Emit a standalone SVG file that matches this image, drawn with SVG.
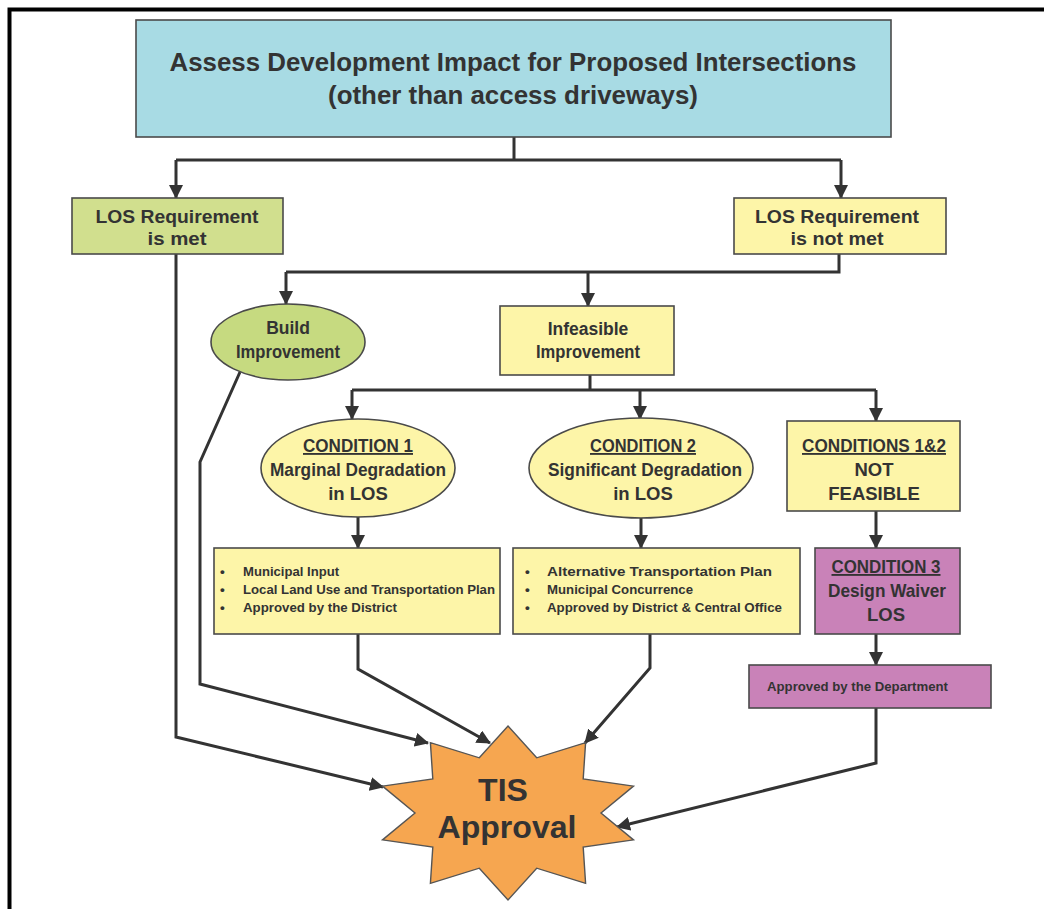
<svg xmlns="http://www.w3.org/2000/svg" width="1044" height="909" viewBox="0 0 1044 909">
<defs>
<marker id="ah" markerWidth="14" markerHeight="14" refX="13" refY="7" orient="auto" markerUnits="userSpaceOnUse"><path d="M0,0 L14,7 L0,14 z" fill="#333"/></marker>
<style>
.box{stroke:#4a4a4a;stroke-width:1.6}
.blue{fill:#a8dbe4}
.green{fill:#d1df8e}
.green2{fill:#c6da80}
.yellow{fill:#fdf5a8}
.purple{fill:#c982b8}
.orange{fill:#f6a650;stroke:#555;stroke-width:1.4}
text{font-family:"Liberation Sans",Arial,sans-serif;font-weight:bold;fill:#333}
.c{text-anchor:middle}
.t1{font-size:25px}
.t2{font-size:17.5px}
.t3{font-size:18.5px}
.t4{font-size:13.5px}
.t5{font-size:32px}
.u{text-decoration:underline}
.conn path{fill:none;stroke:#333;stroke-width:3}
.conn path.a{marker-end:url(#ah)}
</style>
</defs>
<rect width="1044" height="909" fill="#fff"/>
<path d="M9.5,909 V9.5 H1044" fill="none" stroke="#000" stroke-width="4"/>

<g class="conn" id="connectors">
<path d="M514,137 V160"/>
<path d="M176,160 H841"/>
<path class="a" d="M176,160 V198"/>
<path class="a" d="M841,160 V198"/>
<path d="M839,254 V272 H286"/>
<path class="a" d="M286,272 V304"/>
<path class="a" d="M588,272 V306"/>
<path d="M590,375 V390"/>
<path d="M352,390 H876"/>
<path class="a" d="M352,390 V419"/>
<path class="a" d="M640,390 V419"/>
<path class="a" d="M876,390 V421"/>
<path class="a" d="M358,517 V548"/>
<path class="a" d="M641,517 V548"/>
<path class="a" d="M876,511 V548"/>
<path class="a" d="M876,634 V665"/>
<path class="a" d="M176,254 V737 L383,787"/>
<path class="a" d="M240,372 L200,462 V684 L428,743"/>
<path class="a" d="M358,634 V669 L490,743"/>
<path class="a" d="M650,634 V668 L585,743"/>
<path class="a" d="M876,708 V763 L617,827"/>
</g>

<g id="n-assess">
<rect class="box blue" x="136" y="20" width="755" height="117"/>
<text class="t1 c" x="513" y="71" textLength="687" lengthAdjust="spacingAndGlyphs">Assess Development Impact for Proposed Intersections</text>
<text class="t1 c" x="513" y="104" textLength="370" lengthAdjust="spacingAndGlyphs">(other than access driveways)</text>
</g>

<g id="n-met">
<rect class="box green" x="72" y="198" width="211" height="56"/>
<text class="t2 c" x="177" y="223" textLength="163" lengthAdjust="spacingAndGlyphs">LOS Requirement</text>
<text class="t2 c" x="177" y="245" textLength="59" lengthAdjust="spacingAndGlyphs">is met</text>
</g>

<g id="n-notmet">
<rect class="box yellow" x="734" y="198" width="212" height="56"/>
<text class="t2 c" x="837" y="223" textLength="164" lengthAdjust="spacingAndGlyphs">LOS Requirement</text>
<text class="t2 c" x="837" y="245" textLength="93" lengthAdjust="spacingAndGlyphs">is not met</text>
</g>

<g id="n-build">
<ellipse class="box green2" cx="288" cy="342" rx="77" ry="38"/>
<text class="t2 c" x="288" y="334">Build</text>
<text class="t2 c" x="288" y="358" textLength="104" lengthAdjust="spacingAndGlyphs">Improvement</text>
</g>

<g id="n-infeasible">
<rect class="box yellow" x="500" y="306" width="174" height="69"/>
<text class="t2 c" x="588" y="335">Infeasible</text>
<text class="t2 c" x="588" y="358" textLength="104" lengthAdjust="spacingAndGlyphs">Improvement</text>
</g>

<g id="n-cond1">
<ellipse class="box yellow" cx="358" cy="468" rx="97" ry="49"/>
<text class="t3 c u" x="358" y="452" textLength="110" lengthAdjust="spacingAndGlyphs">CONDITION 1</text>
<text class="t3 c" x="358" y="476" textLength="176" lengthAdjust="spacingAndGlyphs">Marginal Degradation</text>
<text class="t3 c" x="358" y="500">in LOS</text>
</g>

<g id="n-cond2">
<ellipse class="box yellow" cx="641" cy="468" rx="112" ry="50"/>
<text class="t3 c u" x="643" y="452" textLength="106" lengthAdjust="spacingAndGlyphs">CONDITION 2</text>
<text class="t3 c" x="645" y="476" textLength="194" lengthAdjust="spacingAndGlyphs">Significant Degradation</text>
<text class="t3 c" x="643" y="500">in LOS</text>
</g>

<g id="n-cond12">
<rect class="box yellow" x="787" y="421" width="173" height="90"/>
<text class="t3 c u" x="874" y="452" textLength="144" lengthAdjust="spacingAndGlyphs">CONDITIONS 1&amp;2</text>
<text class="t3 c" x="874" y="476">NOT</text>
<text class="t3 c" x="874" y="500">FEASIBLE</text>
</g>

<g id="n-box1">
<rect class="box yellow" x="214" y="548" width="286" height="86"/>
<text class="t4" x="220" y="576">•</text>
<text class="t4" x="220" y="594">•</text>
<text class="t4" x="220" y="612">•</text>
<text class="t4" x="243" y="576" textLength="96" lengthAdjust="spacingAndGlyphs">Municipal Input</text>
<text class="t4" x="243" y="594" textLength="252" lengthAdjust="spacingAndGlyphs">Local Land Use and Transportation Plan</text>
<text class="t4" x="243" y="612" textLength="154" lengthAdjust="spacingAndGlyphs">Approved by the District</text>
</g>

<g id="n-box2">
<rect class="box yellow" x="513" y="548" width="287" height="86"/>
<text class="t4" x="525" y="576">•</text>
<text class="t4" x="525" y="594">•</text>
<text class="t4" x="525" y="612">•</text>
<text class="t4" x="547" y="576" textLength="225" lengthAdjust="spacingAndGlyphs">Alternative Transportation Plan</text>
<text class="t4" x="547" y="594" textLength="146" lengthAdjust="spacingAndGlyphs">Municipal Concurrence</text>
<text class="t4" x="547" y="612" textLength="235" lengthAdjust="spacingAndGlyphs">Approved by District &amp; Central Office</text>
</g>

<g id="n-cond3">
<rect class="box purple" x="815" y="548" width="145" height="86"/>
<text class="t3 c u" x="886" y="573" textLength="109" lengthAdjust="spacingAndGlyphs">CONDITION 3</text>
<text class="t3 c" x="887" y="597" textLength="118" lengthAdjust="spacingAndGlyphs">Design Waiver</text>
<text class="t3 c" x="886" y="621">LOS</text>
</g>

<g id="n-dept">
<rect class="box purple" x="749" y="665" width="242" height="43"/>
<text class="t4" x="767" y="691" textLength="181" lengthAdjust="spacingAndGlyphs">Approved by the Department</text>
</g>

<g id="n-tis">
<polygon class="orange" points="508,726 536.7,757.8 585.6,742.6 583.2,778.9 633.5,786.1 601,813 633.5,839.9 583.2,847.1 585.6,883.4 536.7,868.2 508,900 479.3,868.2 430.4,883.4 432.8,847.1 382.5,839.9 415,813 382.5,786.1 432.8,778.9 430.4,742.6 479.3,757.8"/>
<text class="t5 c" x="503" y="801">TIS</text>
<text class="t5 c" x="507" y="838" textLength="139" lengthAdjust="spacingAndGlyphs">Approval</text>
</g>
</svg>
